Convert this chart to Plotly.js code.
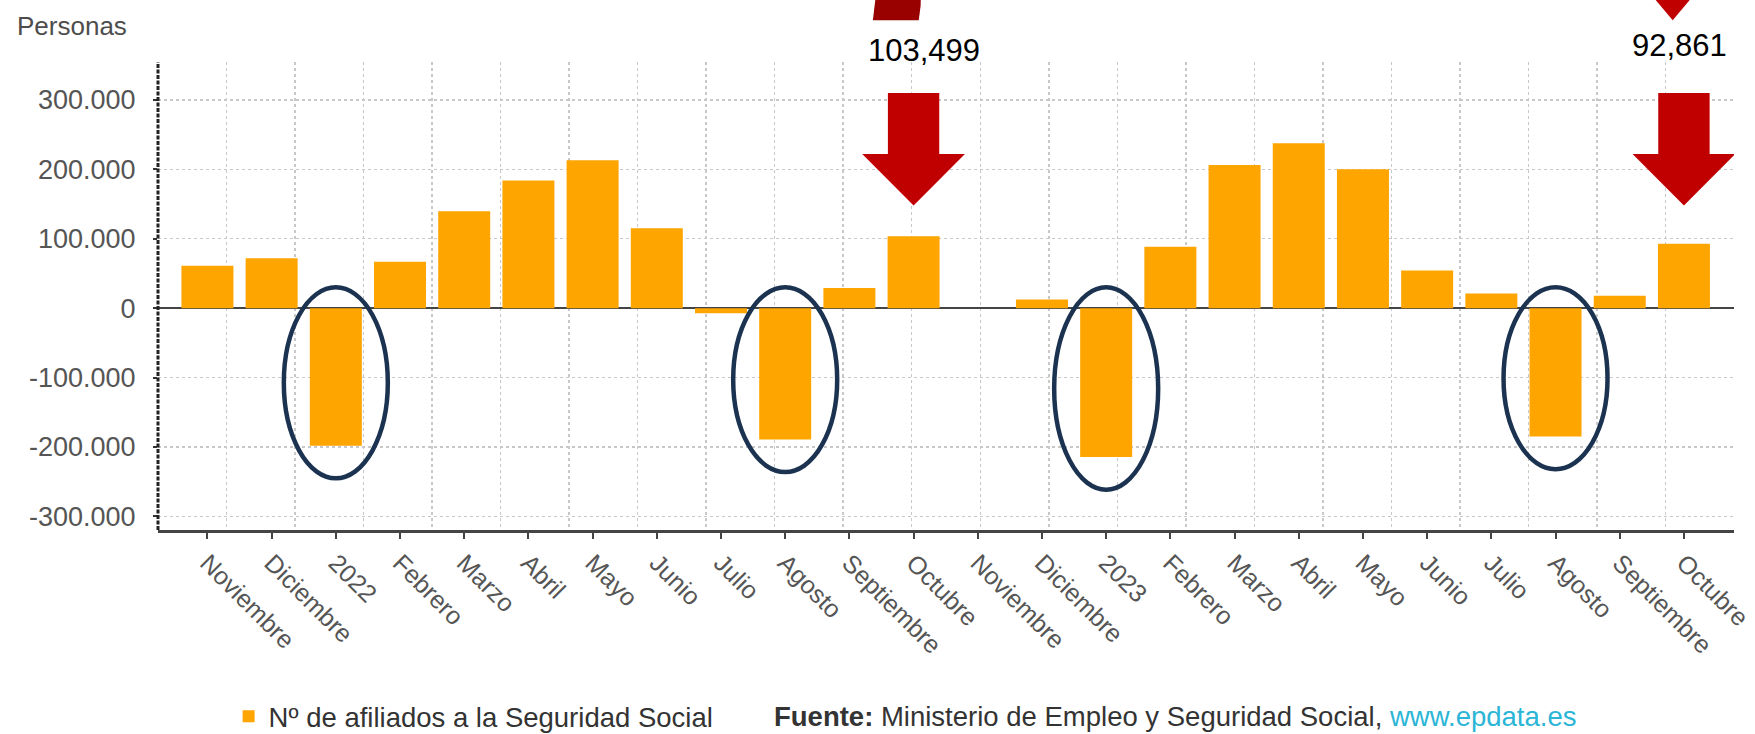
<!DOCTYPE html>
<html>
<head>
<meta charset="utf-8">
<script src="https://cdn.plot.ly/plotly-3.0.1.min.js"></script>
<style>html,body{margin:0;padding:0;background:#fff;}#chart{width:1755px;height:734px;}</style>
</head>
<body>
<div id="chart"></div>
<script>
// ---- Data ----
var categories = ["Noviembre","Diciembre","2022","Febrero","Marzo","Abril","Mayo","Junio","Julio","Agosto","Septiembre","Octubre",
                  "Noviembre","Diciembre","2023","Febrero","Marzo","Abril","Mayo","Junio","Julio","Agosto","Septiembre","Octubre"];
var afiliados = [61000, 72000, -198000, 67000, 139500, 184000, 213000, 115000, -7500, -189000, 29000, 103499,
                 0, 12500, -214500, 88500, 206000, 237500, 200000, 54300, 21200, -185000, 17800, 92861];
var seriesName = "Nº de afiliados a la Seguridad Social";
var yTickVals = [-300000, -200000, -100000, 0, 100000, 200000, 300000];
var yTickLabels = ["-300.000", "-200.000", "-100.000", "0", "100.000", "200.000", "300.000"];
var highlighted = ["Octubre"];

// ---- Build ----
var xIdx = categories.map(function (c, i) { return i; });
var FONT = "Liberation Sans, Arial, sans-serif";

var trace = {
  type: "bar",
  x: xIdx,
  y: afiliados,
  name: seriesName,
  marker: { color: "#FFA500", line: { width: 0 } },
  width: 0.81,
  showlegend: true,
  hoverinfo: "y"
};

// empty helper trace so the overlaying grid axis (xaxis2) gets drawn
var gridHelper = { type: "scatter", x: [], y: [], xaxis: "x2", yaxis: "y", showlegend: false, hoverinfo: "skip" };

var shapes = [];
var annotations = [];

// ellipses around the large negative bars
afiliados.forEach(function (v, i) {
  if (v < -100000) {
    shapes.push({
      type: "circle", xref: "x", yref: "y",
      x0: i - 0.81, x1: i + 0.81, y0: v - 47000, y1: 30000,
      line: { color: "#1B3350", width: 4.5 }, fillcolor: "rgba(0,0,0,0)", layer: "above"
    });
  }
});

// red arrows above "Octubre" bars + value labels
categories.forEach(function (c, i) {
  if (highlighted.indexOf(c) >= 0) {
    var p = "M" + (i - 0.4) + ",310000 L" + (i + 0.4) + ",310000 L" + (i + 0.4) + ",222000 L" + (i + 0.8) + ",222000 L" + i + ",148000 L" + (i - 0.8) + ",222000 L" + (i - 0.4) + ",222000 Z";
    shapes.push({ type: "path", xref: "x", yref: "y", path: p, fillcolor: "#C00000", line: { width: 0 }, layer: "above" });
    var first = i < 12;
    annotations.push({
      xref: "x", yref: "paper", x: i, y: first ? 1.024 : 1.036,
      xshift: first ? 10 : -4,
      text: afiliados[i].toLocaleString("en-US"),
      showarrow: false, xanchor: "center", yanchor: "middle",
      font: { family: FONT, size: 31, color: "#000" }
    });
  }
});

// cut-off decorations at the very top (parts of shapes above the picture)
shapes.push({ type: "path", xref: "x", yref: "paper",
  path: "M10.366,1.089 L11.08,1.089 L11.11,1.12 L11.113,1.14 L10.41,1.14 Z",
  fillcolor: "#990000", line: { width: 0 }, layer: "above" });
shapes.push({ type: "path", xref: "x", yref: "paper",
  path: "M22.514,1.14 L22.825,1.089 L23.136,1.14 Z",
  fillcolor: "#C00000", line: { width: 0 }, layer: "above" });

// dashed vertical axis line
shapes.push({ type: "line", xref: "paper", yref: "paper", x0: 0, x1: 0, y0: 0, y1: 1,
  line: { color: "#222", width: 3, dash: "4px,1.5px" }, layer: "above" });

// y label "Personas"
annotations.push({
  xref: "paper", yref: "paper", x: -0.0907, y: 1.076, xanchor: "left", yanchor: "middle",
  text: "Personas", showarrow: false, font: { family: FONT, size: 26, color: "#4D4D4D" }
});

// source
annotations.push({
  xref: "paper", yref: "paper", x: 0.3895, y: -0.398, xanchor: "left", yanchor: "middle",
  text: "<b>Fuente:</b> Ministerio de Empleo y Seguridad Social, <span style='color:#2BB5D6'>www.epdata.es</span>",
  showarrow: false, font: { family: FONT, size: 27.5, color: "#333" }
});

var layout = {
  width: 1755, height: 734, autosize: false,
  margin: { l: 158, r: 21, t: 62, b: 204, pad: 0, autoexpand: false },
  paper_bgcolor: "#fff", plot_bgcolor: "#fff",
  font: { family: FONT, color: "#555" },
  bargap: 0.19,
  xaxis: {
    type: "linear", range: [-0.77, 23.78],
    tickmode: "array", tickvals: xIdx, ticktext: categories,
    tickangle: 45, tickfont: { family: FONT, size: 25, color: "#555" },
    ticklabeloverflow: "allow",
    ticks: "outside", ticklen: 6, tickwidth: 2, tickcolor: "#444",
    showline: true, linecolor: "#444", linewidth: 2.5,
    showgrid: false, zeroline: false, fixedrange: true, automargin: false
  },
  xaxis2: {
    overlaying: "x", anchor: "y", type: "linear", range: [0, 23],
    tickmode: "linear", tick0: 0, dtick: 1,
    showticklabels: false, ticks: "", showline: false, zeroline: false,
    showgrid: true, gridcolor: "#C8C8C8", gridwidth: 1.5, griddash: "dot", fixedrange: true
  },
  yaxis: {
    range: [-319500, 354500],
    tickmode: "array", tickvals: yTickVals, ticktext: yTickLabels,
    tickfont: { family: FONT, size: 27, color: "#555" },
    ticks: "outside", ticklen: 4, tickwidth: 2, tickcolor: "#333",
    ticklabelstandoff: 12,
    showline: false,
    showgrid: true, gridcolor: "#C8C8C8", gridwidth: 1.5, griddash: "dot",
    zeroline: true, zerolinecolor: "#444", zerolinewidth: 2.5, fixedrange: true, automargin: false
  },
  showlegend: true,
  legend: {
    orientation: "h", x: 0.0448, y: -0.398, xanchor: "left", yanchor: "middle",
    font: { family: FONT, size: 27.5, color: "#333" }, bgcolor: "rgba(0,0,0,0)",
    itemclick: false, itemdoubleclick: false
  },
  shapes: shapes,
  annotations: annotations
};

Plotly.newPlot("chart", [trace, gridHelper], layout, { displayModeBar: false, staticPlot: true });
</script>
</body>
</html>
